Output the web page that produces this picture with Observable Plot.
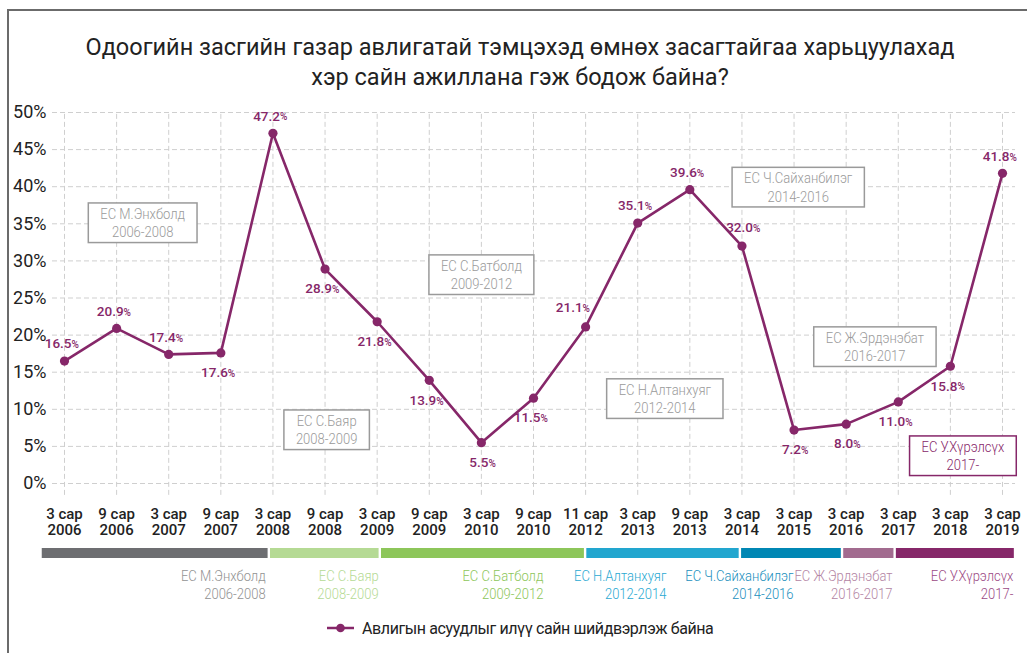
<!DOCTYPE html>
<html><head><meta charset="utf-8">
<script src="https://cdn.jsdelivr.net/npm/d3@7"></script>
<script src="https://cdn.jsdelivr.net/npm/@observablehq/plot@0.6"></script>
<style>
html,body{margin:0;padding:0;background:#fff;}
body{font-family:Roboto,"Liberation Sans",sans-serif;color:#222;}
#wrap{position:relative;width:1027px;height:653px;overflow:hidden;background:#fff;}
#frame{position:absolute;left:7px;top:9px;width:1100px;height:700px;border-left:2px solid #6b6b6b;border-top:2px solid #6b6b6b;}
#title{position:absolute;left:0;width:1040px;top:32px;text-align:center;font-size:23.5px;line-height:30px;color:#222;}
#main{position:absolute;left:0;top:100px;}
#bars{position:absolute;left:0;top:540px;}
#legend{position:absolute;left:327px;top:618px;height:20px;display:flex;align-items:center;font-size:16px;letter-spacing:-0.4px;color:#222;}
#legend svg{margin-right:8px;}
</style>
</head><body>
<div id="wrap">
  <div id="frame"></div>
  <div id="title"></div>
  <div id="main"></div>
  <div id="bars"></div>
  <div id="legend"></div>
</div>
<script>
// ---- data ----
const titleLines = ["Одоогийн засгийн газар авлигатай тэмцэхэд өмнөх засагтайгаа харьцуулахад", "хэр сайн ажиллана гэж бодож байна?"];
const seriesName = "Авлигын асуудлыг илүү сайн шийдвэрлэж байна";
const months = ["3 сар","9 сар","3 сар","9 сар","3 сар","9 сар","3 сар","9 сар","3 сар","9 сар","11 сар","3 сар","9 сар","3 сар","3 сар","3 сар","3 сар","3 сар","3 сар"];
const years = [2006,2006,2007,2007,2008,2008,2009,2009,2010,2010,2012,2013,2013,2014,2015,2016,2017,2018,2019];
const values = [16.5,20.9,17.4,17.6,47.2,28.9,21.8,13.9,5.5,11.5,21.1,35.1,39.6,32.0,7.2,8.0,11.0,15.8,41.8];
const labelPlacement = ["above","above","above","below","above","below","below","below","below","below","aboveLeft","above","above","aboveRight","below","below","below","below","above"];
const yTicks = [0,5,10,15,20,25,30,35,40,45,50];

const govNames = ["ЕС М.Энхболд","ЕС С.Баяр","ЕС С.Батболд","ЕС Н.Алтанхуяг","ЕС Ч.Сайханбилэг","ЕС Ж.Эрдэнэбат","ЕС У.Хүрэлсүх"];
const govTerms = ["2006-2008","2008-2009","2009-2012","2012-2014","2014-2016","2016-2017","2017-"];
// government periods on the survey-index axis
const govStart = [-0.45, 3.93, 6.06, 10.0, 12.97, 14.93, 15.94];
const govEnd   = [3.93, 6.06, 10.0, 12.97, 14.93, 15.94, 18.25];
const govLabelX = [3.86, 6.03, 9.19, 11.55, 13.99, 15.89, 18.21];
// annotation boxes inside the chart (index, percent)
const govBoxX = [1.50, 5.03, 8.0, 11.52, 14.08, 15.55, 17.24];
const govBoxY = [35.2, 7.3, 28.2, 11.5, 40.0, 18.5, 3.8];

// ---- styles ----
const lineColor = "#862769";
const govBarColors  = ["#6d6e71","#b5da94","#8dc65a","#22a6cf","#0087b4","#a26b8f","#862769"];
const govTextColors = ["#929292","#b5da94","#8dc65a","#2aa9d2","#1a8fbd","#b384a3","#9b4a84"];
const govBoxColors  = ["#9a9a9a","#9a9a9a","#9a9a9a","#9a9a9a","#9a9a9a","#9a9a9a","#862769"];
const NARROW = 0.84; // horizontal condensing of the light annotation font

// ---- build ----
document.getElementById("title").innerHTML = titleLines.join("<br>");
const idx = d3.range(values.length);
const pts = values.map((v, i) => ({i, v, place: labelPlacement[i]}));
const govs = govNames.map((n, k) => ({name: n, term: govTerms[k], x1: govStart[k], x2: govEnd[k], lx: govLabelX[k],
  bx: govBoxX[k], by: govBoxY[k], bar: govBarColors[k], tc: govTextColors[k], box: govBoxColors[k]}));

const W = 1027, ML = 64, MR = 25;
const grid = {stroke: "#cfcfcf", strokeWidth: 1, strokeDasharray: "5,3"};
function valueLabels(place, dx, dy) {
  return [
    Plot.text(pts, {filter: d => d.place === place, x: "i", y: "v", text: d => d.v.toFixed(1), textAnchor: "end", dx: dx + 7, dy,
      fill: lineColor, fontSize: 13.5, fontWeight: 500}),
    Plot.text(pts, {filter: d => d.place === place, x: "i", y: "v", text: () => "%", textAnchor: "start", dx: dx + 7, dy: dy + 1,
      fill: lineColor, fontSize: 10, fontWeight: 500})
  ];
}
function condense(svg, desc, k, pad) {
  svg.querySelectorAll(`g[aria-description="${desc}"] text`).forEach(t => {
    const tr = t.getAttribute("transform") || "";
    t.setAttribute("transform", tr + ` scale(${k},1)`);
    if (pad != null) {
      const b = t.getBBox();
      const col = t.getAttribute("fill") || t.parentNode.getAttribute("fill");
      const r = document.createElementNS("http://www.w3.org/2000/svg", "rect");
      r.setAttribute("x", b.x * k - pad); r.setAttribute("y", b.y - 2);
      r.setAttribute("width", b.width * k + 2 * pad); r.setAttribute("height", b.height + 4);
      if (tr) r.setAttribute("transform", tr);
      r.setAttribute("fill", "#fff"); r.setAttribute("stroke", col); r.setAttribute("stroke-width", 1.5);
      t.parentNode.insertBefore(r, t);
    }
  });
}

const main = Plot.plot({
  width: W, height: 445, marginTop: 12, marginBottom: 62, marginLeft: ML, marginRight: MR,
  x: {domain: [0, 18], axis: null},
  y: {domain: [0, 50], axis: null},
  style: {fontFamily: "Roboto, 'Liberation Sans', sans-serif", fontSize: "15px", color: "#222", overflow: "visible", background: "transparent"},
  marks: [
    Plot.ruleY(yTicks, {y: d => d, x1: -0.23, x2: 18.25, ...grid}),
    Plot.ruleX(idx, {x: d => d, y1: -1.6, y2: 50, ...grid}),
    Plot.axisY(yTicks, {tickSize: 0, tickPadding: 18, tickFormat: d => d + "%", fontSize: 18}),
    Plot.axisX(idx, {tickSize: 0, tickPadding: 23, tickFormat: i => months[i] + "\n" + years[i], fontSize: 15, fontWeight: 500, lineHeight: 1.13}),
    Plot.text(govs, {x: "bx", y: "by", text: d => d.name + "\n" + d.term, fill: "box", fontSize: 15.5, fontWeight: 300,
      lineHeight: 1.18, lineAnchor: "middle", ariaDescription: "gov-boxes"}),
    Plot.line(pts, {x: "i", y: "v", stroke: lineColor, strokeWidth: 2.6}),
    Plot.dot(pts, {x: "i", y: "v", r: 4.6, fill: lineColor}),
    ...valueLabels("above", 0, -17),
    ...valueLabels("aboveLeft", -10, -19),
    ...valueLabels("aboveRight", 4, -18),
    ...valueLabels("below", 0, 20)
  ]
});
document.getElementById("main").append(main);
condense(main, "gov-boxes", NARROW, 12);

const bars = Plot.plot({
  width: W, height: 70, marginTop: 8, marginBottom: 52, marginLeft: ML, marginRight: MR,
  x: {domain: [0, 18], axis: null},
  style: {fontFamily: "Roboto, 'Liberation Sans', sans-serif", fontSize: "15px", overflow: "visible", background: "transparent"},
  marks: [
    Plot.barX(govs, {x1: "x1", x2: "x2", fill: "bar", insetLeft: 1.2, insetRight: 1.2}),
    Plot.text(govs, {x: "lx", frameAnchor: "bottom", dy: 26, text: d => d.name + "\n" + d.term, fill: "tc",
      textAnchor: "end", lineAnchor: "middle", lineHeight: 1.12, fontSize: 15.5, fontWeight: 300, ariaDescription: "gov-labels"})
  ]
});
document.getElementById("bars").append(bars);
condense(bars, "gov-labels", NARROW, null);

document.getElementById("legend").innerHTML =
  `<svg width="27" height="10"><line x1="0" y1="5" x2="27" y2="5" stroke="${lineColor}" stroke-width="2.5"/><circle cx="13.5" cy="5" r="4.3" fill="${lineColor}"/></svg><span>${seriesName}</span>`;
</script>
</body></html>
